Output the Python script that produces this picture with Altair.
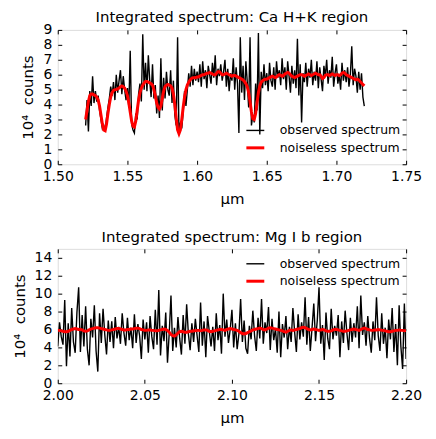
import altair as alt
import numpy as np
import pandas as pd

SERIES = ["observed spectrum", "noiseless spectrum"]

# ---- Top panel: Ca H+K region (x from 1.520 to 1.720, step 0.001) ----
top_start = 1.520
top_obs = [
    2.6, 4.3, 2.2, 4.9, 3.9, 5.9, 4.1, 4.9, 4.2, 4.6,
    3.6, 3.0, 2.4, 2.6, 2.2, 3.1, 3.8, 4.4, 5.2, 4.6,
    5.5, 4.3, 6.0, 4.8, 5.6, 6.3, 4.7, 5.9, 5.0, 4.3,
    5.1, 3.8, 7.6, 2.7, 2.3, 2.1, 3.4, 3.0, 4.7, 5.4,
    4.2, 8.7, 5.0, 6.8, 4.9, 7.3, 5.6, 4.5, 6.7, 4.4,
    5.3, 3.4, 4.6, 3.1, 7.1, 3.6, 5.8, 4.4, 6.2, 5.0,
    4.6, 6.3, 4.1, 5.6, 3.3, 2.6, 8.5, 2.0, 2.8, 2.4,
    3.5, 4.9, 3.9, 5.0, 6.1, 5.2, 6.6, 5.3, 6.4, 5.6,
    6.2, 5.5, 6.7, 5.2, 6.9, 5.7, 6.3, 5.1, 6.6, 6.0,
    5.4, 6.8, 5.8, 7.3, 5.3, 6.4, 5.9, 6.7, 5.6, 6.2,
    7.0, 5.2, 6.4, 4.9, 6.1, 5.6, 7.1, 5.0, 6.5, 5.4,
    2.1, 8.5, 4.8, 6.6, 4.3, 6.9, 5.5, 3.8, 8.5, 2.6,
    3.3, 2.8, 5.4, 3.6, 8.8, 2.0, 6.2, 5.1, 6.7, 5.3,
    6.1, 4.9, 6.8, 5.6, 5.2, 6.5, 5.0, 6.9, 5.8, 6.3,
    5.3, 7.1, 5.7, 6.5, 5.0, 6.9, 5.9, 4.8, 6.6, 5.4,
    6.3, 5.1, 8.4, 4.6, 6.7, 2.8, 6.1, 5.5, 6.8, 5.2,
    6.4, 5.8, 7.0, 5.3, 6.2, 5.6, 6.9, 5.1, 6.5, 5.7,
    4.9, 6.6, 5.9, 7.0, 5.4, 6.3, 5.8, 7.2, 5.2, 6.1,
    6.7, 5.4, 6.0, 5.0, 6.8, 5.6, 6.3, 5.5, 6.5, 5.2,
    6.0, 7.9, 5.3, 6.4, 5.9, 4.8, 6.2, 5.0, 6.1, 4.5,
    3.9,
]
top_true = [
    3.0, 3.6, 4.2, 4.6, 4.7, 4.7, 4.65, 4.6, 4.5, 4.3,
    3.9, 3.3, 2.7, 2.3, 2.25, 2.7, 3.4, 4.0, 4.5, 4.8,
    4.95, 5.0, 5.0, 5.05, 5.1, 5.2, 5.25, 5.2, 5.1, 4.9,
    4.6, 4.1, 3.5, 2.9, 2.55, 2.5, 2.9, 3.6, 4.3, 4.8,
    5.1, 5.3, 5.45, 5.55, 5.55, 5.5, 5.45, 5.4, 5.3, 5.0,
    4.6, 4.1, 3.8, 3.7, 3.9, 4.4, 4.9, 5.2, 5.3, 5.35,
    5.3, 5.25, 5.1, 4.7, 4.0, 3.1, 2.3, 2.05, 2.3, 3.0,
    3.8, 4.5, 5.0, 5.3, 5.5, 5.65, 5.75, 5.8, 5.8, 5.8,
    5.85, 5.85, 5.9, 5.95, 6.0, 6.0, 6.05, 6.1, 6.1, 6.15,
    6.1, 6.05, 6.0, 6.0, 6.1, 6.2, 6.2, 6.1, 6.0, 6.0,
    6.05, 6.1, 6.05, 6.0, 5.95, 5.9, 5.95, 5.95, 5.9, 5.85,
    5.8, 5.75, 5.7, 5.65, 5.55, 5.4, 5.2, 4.8, 4.2, 3.5,
    3.05, 3.0, 3.4, 4.1, 4.8, 5.25, 5.5, 5.6, 5.65, 5.7,
    5.7, 5.75, 5.8, 5.85, 5.9, 5.85, 5.8, 5.85, 5.95, 6.0,
    5.95, 5.9, 5.95, 6.05, 6.1, 6.15, 6.1, 6.0, 5.9, 5.85,
    5.8, 5.85, 5.9, 5.95, 6.0, 6.0, 5.95, 5.9, 5.95, 6.0,
    6.05, 6.0, 5.95, 6.0, 6.05, 6.1, 6.05, 6.0, 6.0, 5.9,
    5.75, 5.8, 5.95, 6.0, 6.0, 5.95, 6.0, 6.05, 6.0, 5.95,
    6.0, 6.0, 5.95, 6.0, 6.1, 6.15, 6.1, 6.0, 5.95, 5.9,
    5.85, 5.8, 5.75, 5.7, 5.65, 5.7, 5.65, 5.55, 5.45, 5.35,
    5.25,
]

# ---- Bottom panel: Mg I b region (x from 2.000 to 2.200, step 0.001) ----
bot_start = 2.000
bot_obs = [
    4.1, 6.8, 5.2, 4.3, 9.3, 1.9, 6.7, 3.0, 8.4, 4.6,
    3.4, 7.9, 10.7, 3.5, 7.6, 4.1, 8.6, 3.8, 2.0, 7.2,
    5.1, 8.7, 3.6, 1.3, 7.8, 4.5, 8.3, 5.4, 3.2, 7.0,
    4.6, 6.9, 3.9, 7.4, 5.0, 6.3, 4.4, 7.8, 5.6, 4.2,
    7.3, 4.8, 6.2, 3.9, 7.7, 4.5, 6.6, 5.3, 2.7, 7.1,
    4.9, 6.8, 3.4, 7.5, 5.2, 3.8, 8.2, 4.3, 10.4, 3.1,
    6.4, 4.7, 7.9, 2.3, 5.6, 9.8, 3.6, 6.2, 4.0, 7.4,
    5.0, 3.2, 7.6, 4.4, 8.8, 5.5, 3.7, 6.7, 4.6, 7.2,
    5.3, 3.5, 9.0, 4.2, 6.9, 2.9, 7.5, 5.8, 4.1, 6.3,
    3.6, 7.8, 4.8, 6.5, 3.3, 10.0, 5.2, 7.1, 4.5, 6.0,
    8.2, 4.0, 6.7, 3.8, 5.5, 9.4, 4.6, 7.0, 3.9, 3.3,
    6.4, 4.9, 8.1, 5.3, 3.6, 7.3, 5.0, 9.4, 4.4, 6.8,
    5.6, 8.5, 3.7, 7.2, 4.8, 6.1, 3.4, 8.0, 2.9, 6.6,
    5.1, 7.5, 3.8, 6.3, 4.6, 8.4, 5.7, 3.5, 7.7, 4.9,
    6.8, 5.2, 9.6, 4.3, 7.4, 3.6, 6.2, 8.9, 4.7, 7.0,
    10.7, 4.4, 6.5, 2.6, 7.9, 5.0, 3.8, 8.3, 4.9, 6.4,
    5.3, 7.6, 2.9, 6.9, 4.5, 8.1, 5.6, 3.7, 7.3, 4.6,
    6.7, 5.1, 8.6, 3.9, 9.8, 5.4, 6.8, 4.2, 7.5, 5.0,
    3.4, 6.9, 4.8, 9.6, 5.3, 3.6, 7.8, 4.4, 6.2, 2.8,
    7.1, 4.9, 8.4, 3.5, 6.6, 2.0, 8.7, 4.1, 1.6, 8.9,
    2.7,
]
bot_true = [
    5.9, 5.9, 5.85, 5.8, 5.75, 5.75, 5.8, 5.9, 6.0, 6.05,
    6.1, 6.05, 6.0, 6.0, 5.95, 5.85, 5.8, 5.85, 5.95, 6.05,
    6.1, 6.15, 6.2, 6.2, 6.15, 6.1, 6.05, 6.0, 5.95, 5.9,
    5.9, 5.95, 6.0, 6.05, 6.1, 6.1, 6.05, 6.0, 5.95, 5.95,
    6.0, 6.0, 6.05, 6.05, 6.1, 6.15, 6.15, 6.1, 6.0, 5.95,
    5.9, 5.9, 5.95, 5.95, 5.9, 5.9, 5.85, 5.85, 5.9, 5.95,
    6.0, 6.05, 6.0, 5.9, 5.7, 5.45, 5.3, 5.25, 5.4, 5.6,
    5.75, 5.8, 5.75, 5.7, 5.7, 5.75, 5.8, 5.8, 5.85, 5.85,
    5.9, 5.9, 5.85, 5.9, 5.95, 5.95, 5.9, 5.8, 5.75, 5.8,
    5.85, 5.9, 5.95, 6.0, 6.0, 5.95, 5.9, 6.0, 6.05, 6.1,
    6.05, 6.0, 5.95, 5.9, 5.8, 5.65, 5.55, 5.5, 5.55, 5.65,
    5.75, 5.85, 5.95, 6.0, 6.05, 6.1, 6.15, 6.1, 6.0, 5.95,
    6.05, 6.15, 6.2, 6.15, 6.1, 6.05, 6.0, 5.95, 5.9, 5.85,
    5.75, 5.7, 5.8, 5.9, 5.95, 5.9, 5.95, 6.0, 6.05, 6.1,
    6.2, 6.25, 6.2, 6.1, 6.0, 5.95, 6.0, 6.05, 6.0, 5.95,
    5.9, 5.95, 6.0, 5.95, 5.85, 5.8, 5.8, 5.85, 5.95, 6.0,
    6.0, 5.95, 5.9, 5.85, 5.8, 5.8, 5.85, 5.9, 5.95, 6.0,
    6.05, 6.0, 5.95, 5.9, 6.0, 6.1, 6.15, 6.1, 6.0, 5.95,
    5.9, 5.9, 5.95, 5.95, 6.0, 5.95, 5.9, 5.9, 5.85, 5.8,
    5.75, 5.75, 5.8, 5.85, 5.9, 5.9, 5.95, 5.9, 5.9, 5.85,
    5.9,
]

top_xticks = [1.50, 1.55, 1.60, 1.65, 1.70, 1.75]
top_yticks = [0, 1, 2, 3, 4, 5, 6, 7, 8, 9]
bot_xticks = [2.00, 2.05, 2.10, 2.15, 2.20]
bot_yticks = [0, 2, 4, 6, 8, 10, 12, 14]

FONT = "DejaVu Sans"
W, H = 350, 135


def make_df(start, obs, true):
    x = np.round(start + 0.001 * np.arange(len(obs)), 3)
    d1 = pd.DataFrame({"x": x, "y": obs, "series": SERIES[0]})
    d2 = pd.DataFrame({"x": x, "y": true, "series": SERIES[1]})
    return d1, d2


def panel(start, obs, true, title, xdom, xticks, ydom, yticks, legx, legy, toff):
    d_obs, d_true = make_df(start, obs, true)
    xscale = alt.Scale(domain=xdom, nice=False, zero=False)
    yscale = alt.Scale(domain=ydom, nice=False, zero=False)
    common = dict(domain=False, grid=False, ticks=True, tickSize=4, offset=-4,
                  tickColor="black", tickWidth=1, minExtent=0)
    x_main = alt.X("x:Q", scale=xscale, axis=alt.Axis(
        orient="bottom", values=xticks, format=".2f", title="μm",
        labelPadding=5, labelFontSize=14, labelColor="black", labelFont=FONT,
        titleFontSize=15, titleFont=FONT, titleFontWeight="normal",
        titleColor="black", titlePadding=8, labelFlush=False, **common))
    y_main = alt.Y("y:Q", scale=yscale, axis=alt.Axis(
        orient="left", values=yticks, format="d", title="10⁴\u00a0 counts",
        labelPadding=6, labelFontSize=14, labelColor="black", labelFont=FONT,
        titleFontSize=15, titleFont=FONT, titleFontWeight="normal",
        titleColor="black", titlePadding=7, labelFlush=False, **common))
    x_top = alt.X("x:Q", scale=xscale, axis=alt.Axis(
        orient="top", values=xticks, labels=False, title=None, **common))
    y_right = alt.Y("y:Q", scale=yscale, axis=alt.Axis(
        orient="right", values=yticks, labels=False, title=None, **common))
    legend = alt.Legend(title=None, orient="none", legendX=legx, legendY=legy,
                        symbolType="stroke", symbolSize=324, labelFontSize=12.5,
                        labelFont=FONT, labelColor="black", labelOffset=14,
                        rowPadding=0, padding=0)
    color = alt.Color("series:N", scale=alt.Scale(domain=SERIES, range=["black", "red"]),
                      legend=legend)
    sw = alt.StrokeWidth("series:N", scale=alt.Scale(domain=SERIES, range=[1.4, 3]),
                         legend=legend)
    l1 = alt.Chart(d_obs).mark_line(clip=True).encode(x=x_main, y=y_main, color=color, strokeWidth=sw)
    l2 = alt.Chart(d_true).mark_line(clip=True).encode(x=x_top, y=y_right, color=color, strokeWidth=sw)
    return alt.layer(l1, l2).resolve_axis(x="independent", y="independent").properties(
        width=W, height=H,
        title=alt.TitleParams(title, fontSize=15, font=FONT, fontWeight="normal",
                              color="black", offset=toff))


top = panel(top_start, top_obs, top_true, "Integrated spectrum: Ca H+K region",
            [1.50, 1.75], top_xticks, [0, 9], top_yticks, 188, 91, -2)
bot = panel(bot_start, bot_obs, bot_true, "Integrated spectrum: Mg I b region",
            [2.00, 2.20], bot_xticks, [0, 15], bot_yticks, 188, 5, 3)

chart = alt.vconcat(top, bot, spacing=23).resolve_scale(
    color="independent", strokeWidth="independent").resolve_legend(
    color="independent", strokeWidth="independent").properties(
    padding={"left": 3, "top": 0, "right": 5, "bottom": 5}
).configure_view(stroke="black", strokeWidth=1).configure(background="white")

chart.save("out.html", embed_options={"renderer": "svg", "actions": False})
